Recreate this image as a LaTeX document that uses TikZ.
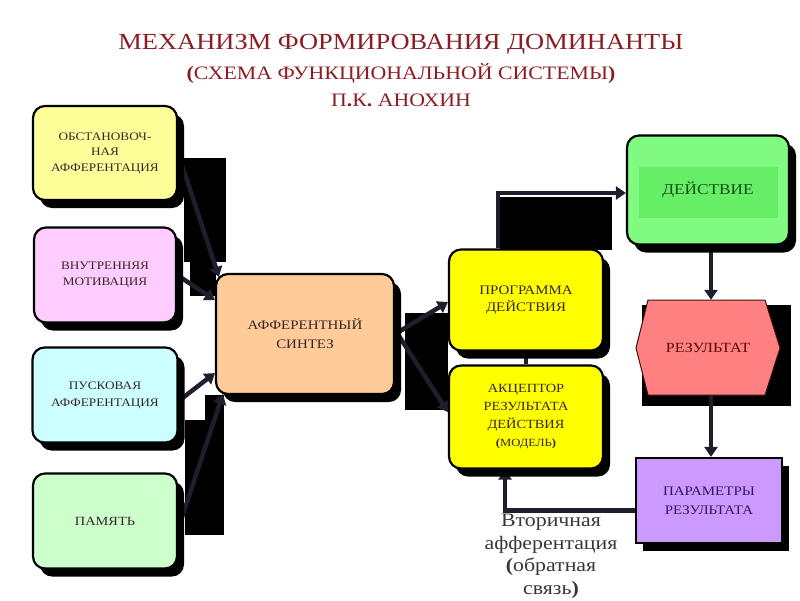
\documentclass[tikz,border=0pt]{standalone}
\usepackage{fontspec}
\setmainfont{Liberation Serif}[FakeStretch=1.15]
\usetikzlibrary{arrows.meta,calc,shadows}
\definecolor{titlered}{RGB}{140,30,35}
\definecolor{boxtext}{RGB}{55,38,38}
\definecolor{conncol}{RGB}{30,30,44}
\definecolor{cobst}{RGB}{255,255,153}
\definecolor{cvnut}{RGB}{255,204,255}
\definecolor{cpusk}{RGB}{204,255,255}
\definecolor{cpam}{RGB}{204,255,204}
\definecolor{csint}{RGB}{255,204,153}
\definecolor{cprog}{RGB}{255,255,0}
\definecolor{cdeist}{RGB}{128,250,128}
\definecolor{cdeistin}{RGB}{102,238,102}
\definecolor{crez}{RGB}{255,128,128}
\definecolor{cpar}{RGB}{204,153,255}
\pgfdeclarelayer{bg}
\pgfsetlayers{bg,main}
\begin{document}
\begin{tikzpicture}[x=1pt,y=-1pt,
  box/.style={draw=black, line width=2.2pt, rounded corners=12pt, inner sep=2pt,
    align=center, text=boxtext,
    drop shadow={shadow xshift=7pt, shadow yshift=-8pt, opacity=1, fill=black}},
  sqbox/.style={draw=black, line width=2.2pt, inner sep=2pt, align=center,
    drop shadow={shadow xshift=7pt, shadow yshift=-8pt, opacity=1, fill=black}},
  conn/.style={draw=conncol, line width=4.5pt},
  arr/.style={conn, -{Triangle[length=10pt,width=13pt]}},
  blk/.style={fill=black}]
\useasboundingbox (0,0) rectangle (800,600);

% title
\node[text=titlered, font=\fontsize{23}{26}\selectfont] (t1) at (401,44) {МЕХАНИЗМ ФОРМИРОВАНИЯ ДОМИНАНТЫ};
\node[text=titlered, font=\fontsize{19}{22}\selectfont] (t2) at (401,73) {\textbf{(}СХЕМА ФУНКЦИОНАЛЬНОЙ СИСТЕМЫ\textbf{)}};
\node[text=titlered, font=\fontsize{19}{22}\selectfont] (t3) at (401,100) {П\textbf{.}К\textbf{.} АНОХИН};

% left boxes
\node[box, fill=cobst, minimum width=144pt, minimum height=94pt,
  font=\fontsize{11.5}{15.5}\selectfont] (obst) at (105,153) {ОБСТАНОВОЧ-\\НАЯ\\АФФЕРЕНТАЦИЯ};
\node[box, fill=cvnut, minimum width=142pt, minimum height=95pt,
  font=\fontsize{11.5}{16}\selectfont] (vnut) at (105,275) {ВНУТРЕННЯЯ\\МОТИВАЦИЯ};
\node[box, fill=cpusk, minimum width=145pt, minimum height=95pt,
  font=\fontsize{11.5}{17}\selectfont] (pusk) at (105,395) {ПУСКОВАЯ\\АФФЕРЕНТАЦИЯ};
\node[box, fill=cpam, minimum width=144pt, minimum height=95pt,
  font=\fontsize{12.5}{15}\selectfont] (pam) at (105,521) {ПАМЯТЬ};

% centre
\node[box, fill=csint, minimum width=178pt, minimum height=120pt,
  font=\fontsize{13}{19}\selectfont] (sint) at (305,334) {АФФЕРЕНТНЫЙ\\СИНТЕЗ};
\node[box, fill=cprog, minimum width=154pt, minimum height=101pt,
  font=\fontsize{13}{17}\selectfont] (prog) at (526,300) {ПРОГРАММА\\ДЕЙСТВИЯ};
\node[box, fill=cprog, minimum width=154pt, minimum height=103pt,
  font=\fontsize{12.5}{18}\selectfont] (akc) at (526,417)
  {АКЦЕПТОР\\РЕЗУЛЬТАТА\\ДЕЙСТВИЯ\\{\fontsize{11}{14}\selectfont\textbf{(}МОДЕЛЬ\textbf{)}}};

% right column
\node[box, fill=cdeist, minimum width=162pt, minimum height=109pt] (deist) at (708,190) {};
\fill[cdeistin] (639,167) rectangle (778,218);
\node[text={rgb,255:red,20;green,80;blue,20}, font=\fontsize{15}{18}\selectfont] (deistt) at (deist.center) {ДЕЙСТВИЕ};

\begin{pgfonlayer}{bg}
  \fill[black] (642,305) rectangle (791,406);
\end{pgfonlayer}
\filldraw[fill=crez, draw={rgb,255:red,60;green,20;blue,20}, line width=1pt]
  (648,300) -- (765,300) -- (780,348) -- (765,395) -- (648,395) -- (636,348) -- cycle;
\node[minimum width=144pt, minimum height=95pt, text={rgb,255:red,90;green,10;blue,10},
  font=\fontsize{14}{17}\selectfont] (rez) at (708,347.5) {РЕЗУЛЬТАТ};

\node[sqbox, fill=cpar, minimum width=146pt, minimum height=85pt,
  text={rgb,255:red,50;green,20;blue,90},
  font=\fontsize{13}{19}\selectfont] (par) at (709,500.5) {ПАРАМЕТРЫ\\РЕЗУЛЬТАТА};

% feedback label
\node[text={rgb,255:red,55;green,55;blue,55}, align=center, anchor=north, inner sep=0pt,
  font=\fontsize{19}{22.5}\selectfont] (fb) at (551,514)
  {Вторичная\\афферентация\\\textbf{(}обратная\\связь\textbf{)}};

% connectors and shadow artefacts
\begin{pgfonlayer}{bg}
  \fill[blk] (184,158) rectangle (226,262);
  \fill[blk] (190,262) rectangle (216,296);
  \fill[blk] (205,395) rectangle (224,420);
  \fill[blk] (185,420) rectangle (224,535);
  \fill[blk] (405,313) rectangle (448,410);
  \fill[blk] (500,197) rectangle (612,250);

  \draw[arr] (obst.east) -- ($(sint.north west)+(4,4)$);
  \draw[arr] (vnut.east) -- ($(sint.west)+(0,-34)$);
  \draw[arr] ($(pusk.east)+(0,6)$) -- ($(sint.south west)+(0,-22)$);
  \draw[arr] ($(pam.east)+(0,8)$) -- ($(sint.south west)+(8,-1)$);
  \draw[arr] (sint.east) -- ($(prog.west)+(0,2)$);
  \draw[arr] ($(sint.east)+(0,-4)$) -- ($(akc.west)+(0,-5)$);
  \draw[arr] ($(prog.north)+(-28,0)$) |- ($(deist.west)+(0,3)$);
  \draw[conn] (prog.south) -- (akc.north);
  \draw[arr] ($(deist.south)+(3,0)$) -- ($(rez.north)+(3,0)$);
  \draw[arr] ($(rez.south)+(3,0)$) -- ($(par.north)+(2,0)$);
  \draw[arr] ($(par.west)+(0,10)$) -| ($(akc.south)+(-21,0)$);
\end{pgfonlayer}
\end{tikzpicture}
\end{document}
